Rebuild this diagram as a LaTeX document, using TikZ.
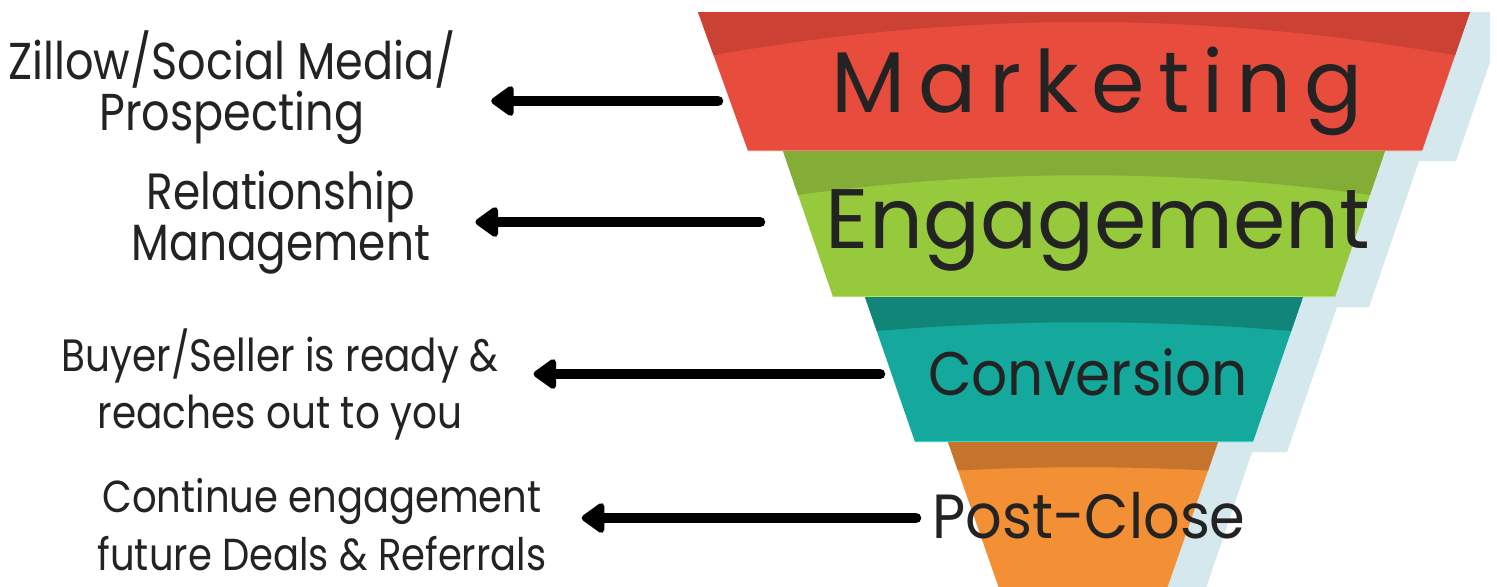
\documentclass[tikz,border=0pt]{standalone}
\usepackage{fontspec}
\setmainfont{Poppins}
\newfontfamily\sidefont{Poppins}[FakeStretch=0.86]
\newfontfamily\bandfont{Poppins}
\newfontfamily\narrowfont{Poppins}[FakeStretch=0.92]
\newfontfamily\spacedfont{Poppins}[LetterSpace=15]
\usepackage{tikz}
\usetikzlibrary{arrows.meta}

\definecolor{textgray}{HTML}{232323}
\definecolor{funnelshadow}{HTML}{D5E8ED}
\definecolor{mkt}{HTML}{E74C3C}
\definecolor{mktdark}{HTML}{CB4134}
\definecolor{mktlight}{HTML}{F47F72}
\definecolor{eng}{HTML}{97C93D}
\definecolor{engdark}{HTML}{83AD37}
\definecolor{englight}{HTML}{B9E060}
\definecolor{conv}{HTML}{14A99C}
\definecolor{convdark}{HTML}{108578}
\definecolor{convlight}{HTML}{34D4C6}
\definecolor{post}{HTML}{F39035}
\definecolor{postdark}{HTML}{C5742C}
\definecolor{postlight}{HTML}{F7A95E}

% #1 colour, #2 top, #3 bottom, #4/#5 top left/right, #6/#7 bottom left/right, #8 side drop, #9 control height
\newcommand{\FunnelBand}[9]{%
  \begin{scope}
    \clip (#4,#2) -- (#5,#2) -- (#7,#3) -- (#6,#3) -- cycle;
    \fill[#1] (#4,#2) rectangle (#5,#3);
    \fill[#1dark] (#4,#2) -- (#5,#2) -- (#5,#2+#8)
      .. controls (#5-#5/3+#4/3,#2+#9) and (#4+#5/3-#4/3,#2+#9) .. (#4,#2+#8) -- cycle;
    \draw[#1light,line width=0.5mm] (#6,#3) -- (#7,#3);
  \end{scope}}

\begin{document}
\begin{tikzpicture}[x=0.2mm,y=-0.2mm]
		\tikzstyle{SideText}=[align=center,anchor=base,text=textgray,inner sep=0pt]
		\tikzstyle{BandText}=[anchor=base,text=textgray,inner sep=0pt]
		\tikzstyle{EdgeStyle}=[line width=2.1mm,line cap=round,
		  -{Triangle[width=6.8mm,length=5mm,round]},shorten >=7mm]
		\clip (0,0) rectangle (1497,586);
		\fill[white] (0,0) rectangle (1497,586);
		\fill[funnelshadow] (1100,12) -- (1490,12) -- (1490,62) -- (1456,161) -- (1419,161)
		  -- (1369,307) -- (1337,307) -- (1287,452) -- (1252,452) -- (1202,600)
		  -- (1100,600) -- cycle;
		\FunnelBand{mkt}{12}{151}{698}{1470}{748}{1422}{46}{-2}
		\FunnelBand{eng}{151}{297}{783}{1385}{833}{1335}{46}{17}
		\FunnelBand{conv}{297}{442}{865}{1303}{915}{1253}{35}{22}
		\FunnelBand{post}{442}{600}{948}{1218}{1003}{1163}{29}{24}
		\node[BandText,font=\spacedfont\fontsize{49}{50}\selectfont] (marketing) at (1097,112) {Marketing};
		\node[BandText,font=\bandfont\fontsize{48}{49}\selectfont] (engagement) at (1098,248) {Engagement};
		\node[BandText,font=\narrowfont\fontsize{35}{36}\selectfont] (conversion) at (1088,395) {Conversion};
		\node[BandText,font=\narrowfont\fontsize{35.5}{36}\selectfont] (postclose) at (1089,538) {Post-Close};
		\node[SideText,font=\sidefont\fontsize{29.5}{27.3}\selectfont] (zillow) at (232,130) {Zillow/Social Media/\\Prospecting};
		\node[SideText,font=\sidefont\fontsize{29}{25.6}\selectfont] (relation) at (281,260) {Relationship\\Management};
		\node[SideText,font=\sidefont\fontsize{25.8}{31.9}\selectfont] (buyer) at (280,428) {Buyer/Seller is ready \&\\reaches out to you};
		\node[SideText,font=\sidefont\fontsize{25.5}{33}\selectfont] (cont) at (322,570) {Continue engagement\\future Deals \& Referrals};
		\coordinate (t1) at (718,101);
		\coordinate (t2) at (760,222);
		\coordinate (t3) at (880,374);
		\coordinate (t4) at (916,518);
		\draw[EdgeStyle] (t1) -- (zillow.east |- t1);
		\draw[EdgeStyle,shorten >=9mm] (t2) -- (relation.east |- t2);
		\draw[EdgeStyle] (t3) -- (buyer.east |- t3);
		\draw[EdgeStyle] (t4) -- (cont.east |- t4);
	\end{tikzpicture}
\end{document}
